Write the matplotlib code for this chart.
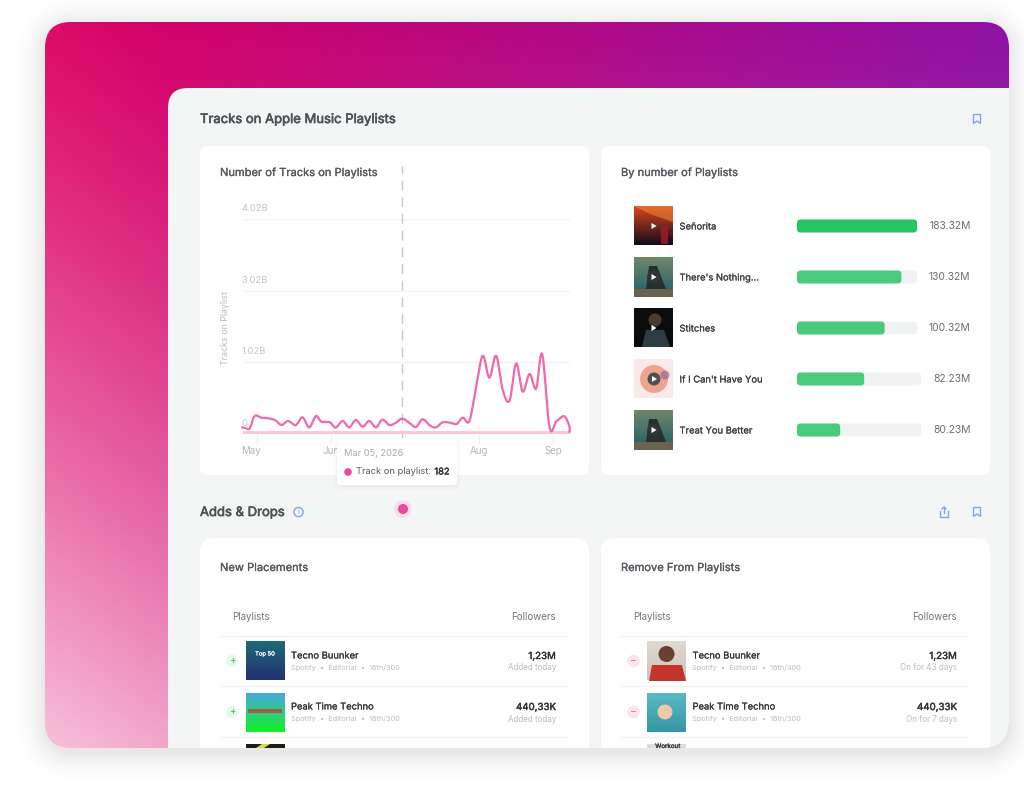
#!/usr/bin/python3

# Dashboard card: playlist tracks line chart, top tracks bars and two placement tables.
# The main axes is in screen pixels, the line and bars get their own axes on top.

import numpy as np
import matplotlib
matplotlib.use('Agg')
import matplotlib.pyplot as plt
import matplotlib.patheffects as pe
from matplotlib.patches import FancyBboxPatch, Circle, Polygon, Rectangle
from matplotlib.lines import Line2D

W, H = 1024, 786

# line chart, y is in grid steps because the axis labels are not evenly valued
track_days = [-6, -4.4, -3, -1, 1.8, 4.5, 7.3, 10, 12.7, 15.9, 18.6, 21.4, 24.1, 26.4, 29.9, 32.2,
              35.1, 37.8, 40.5, 43.3, 46, 48.8, 51.4, 54.2, 56.6, 59.6, 62.7, 65.2, 67.9, 71, 73.4,
              76.2, 79.2, 81.9, 84.4, 87.1, 89.9, 92.6, 95.3, 98.1, 100.8, 103.6, 106.3, 109,
              111.8, 114.5, 117, 120, 122.7, 125.5, 126.8, 128.2, 128.2]
track_vals = [.093, .079, .079, .251, .228, .219, .195, .126, .181, .126, .233, .093, .251, .172,
              .163, .088, .181, .093, .195, .102, .181, .093, .2, .126, .149, .214, .149, .098,
              .205, .116, .093, .163, .158, .14, .228, .181, .66, 1.093, .786, 1.093, .614, .465,
              .986, .591, .837, .633, 1.116, .093, .172, .247, .219, .102, .033]
y_ticks = [0, 1, 2, 3]
y_labels = ['0', '1.02B', '3.02B', '4.02B']
month_days = [0, 30.3, 60.8, 91.2, 121.6]
month_names = ['May', 'Jun', '', 'Aug', 'Sep']  # July sits behind the tooltip
hover_day = 59.6

# bars, lengths as a share of the 120px track
song_names = ['Señorita', "There's Nothing...", 'Stitches', "If I Can't Have You", 'Treat You Better']
song_lengths = [100, 87, 73, 56, 36]
song_tracks = [100, 100, 100, 103.3, 103.3]
song_labels = ['183.32M', '130.32M', '100.32M', '82.23M', '80.23M']

# tables
table_names = ['Tecno Buunker', 'Peak Time Techno']
table_subs = ['Spotify  •  Editorial  •  16th/300', 'Spotify  •  Editorial  •  16th/300']
table_followers = ['1,23M', '440,33K']
added_notes = ['Added today', 'Added today']
removed_notes = ['On for 43 days', 'On for 7 days']

FONT = 'Inter'
DARK = '#4d5258'
GREY = '#b9bcc0'
PINK = '#ec4899'
plt.rcParams['font.family'] = [FONT, 'DejaVu Sans']

fig = plt.figure(figsize=(W / 100, H / 100), dpi=100)
ax = fig.add_axes([0, 0, 1, 1])
ax.set_xlim(0, W)
ax.set_ylim(H, 0)
ax.axis('off')


def px_axes(x0, y0, x1, y1, z=1):
    a = fig.add_axes([x0 / W, 1 - y1 / H, (x1 - x0) / W, (y1 - y0) / H], zorder=z)
    a.patch.set_alpha(0)
    return a


def rounded(target, x0, y0, x1, y1, r, **kw):
    p = FancyBboxPatch((x0, y0), x1 - x0, y1 - y0, boxstyle=f'round,pad=0,rounding_size={r}',
                       linewidth=kw.pop('lw', 0), **kw)
    target.add_patch(p)
    return p


def label(x, y, s, size=8, color=DARK, ha='left', heavy=0, target=None, **kw):
    # Inter only comes in one usable weight here, so a thin stroke stands in for medium
    t = (target or ax).text(x, y + 2, s, fontsize=size, color=color, ha=ha, va='center', **kw)
    if heavy:
        t.set_path_effects([pe.withStroke(linewidth=heavy, foreground=color)])
    return t


# soft shadow around the card, then the gradient clipped to its rounded shape
CX0, CY0, CX1, CY1, CR = 45, 22, 1009, 748, 26
xx, yy = np.meshgrid(np.arange(W) + .5, np.arange(H) + .5)
qx = np.abs(xx - (CX0 + CX1) / 2) - ((CX1 - CX0) / 2 - CR)
qy = np.abs(yy - 4 - (CY0 + CY1) / 2) - ((CY1 - CY0) / 2 - CR)
dist = np.hypot(np.maximum(qx, 0), np.maximum(qy, 0)) + np.minimum(np.maximum(qx, qy), 0) - CR
shade = np.clip(1 - np.clip(dist, 0, None) / 36, 0, 1) ** 2 * 0.09
ax.imshow(1 - shade, cmap='gray', vmin=0, vmax=1, extent=(0, W, H, 0), aspect='auto', zorder=0)

u = ((xx - CX0) / (CX1 - CX0))[..., None]
v = ((yy - CY0) / (CY1 - CY0))[..., None]
tl, tr = np.array([220, 0, 98]) / 255, np.array([142, 18, 165]) / 255
bl = np.array([246, 188, 216]) / 255
top = tl[None, None] * (1 - u) + tr[None, None] * u
edge = np.clip(1 - (xx[..., None] - CX0) / 123, 0, 1)
t = ((v + .12 * edge) / 1.1).clip(0, 1) ** 1.3
grad = top * (1 - t) + bl[None, None] * t
img = ax.imshow(grad.clip(0, 1), extent=(0, W, H, 0), aspect='auto', zorder=1)
card = FancyBboxPatch((CX0, CY0), CX1 - CX0, CY1 - CY0, boxstyle=f'round,pad=0,rounding_size={CR}',
                      transform=ax.transData, facecolor='none', linewidth=0)
ax.add_patch(card)
img.set_clip_path(card)

panel = rounded(ax, 168, 88, 1100, 900, 20, facecolor='#f4f6f6', zorder=2)
panel.set_clip_path(card)

for box in [(200, 146, 589, 475, 8), (601, 146, 990, 475, 8), (200, 538, 589, 800, 14), (601, 538, 990, 800, 14)]:
    c = rounded(ax, *box[:4], box[4], facecolor='white', zorder=3)
    c.set_clip_path(card)

label(200, 118, 'Tracks on Apple Music Playlists', 9.4, DARK, heavy=.45, zorder=4)
label(200, 511, 'Adds & Drops', 9.4, DARK, heavy=.45, zorder=4)
label(220, 171, 'Number of Tracks on Playlists', 8, '#565a60', heavy=.2, zorder=4)
label(621, 171, 'By number of Playlists', 8, '#565a60', heavy=.2, zorder=4)
label(220, 566, 'New Placements', 8, '#565a60', heavy=.2, zorder=4)
label(621, 566, 'Remove From Playlists', 8, '#565a60', heavy=.2, zorder=4)
label(225, 326, 'Tracks on Playlist', 6.4, GREY, ha='center', rotation=90, zorder=4)

BLUE = '#7ea6e8'


def bookmark(x, y):
    ax.add_patch(Polygon([(x - 3.5, y - 4.5), (x + 3.5, y - 4.5), (x + 3.5, y + 4.5), (x, y + 2), (x - 3.5, y + 4.5)],
                         closed=True, facecolor='none', edgecolor=BLUE, linewidth=1, zorder=4))


bookmark(977, 119)
bookmark(977, 512)
ax.add_line(Line2D([940, 940, 948, 948], [511, 516.5, 516.5, 511], color=BLUE, linewidth=1, zorder=4))
ax.add_line(Line2D([944, 944], [513, 507], color=BLUE, linewidth=1, zorder=4))
ax.add_line(Line2D([942, 944, 946], [509, 507, 509], color=BLUE, linewidth=1, zorder=4))
ax.add_patch(Circle((298.5, 512), 4.6, facecolor='none', edgecolor=BLUE, linewidth=1, zorder=4))
label(298.5, 510, 'i', 5.5, BLUE, ha='center', zorder=4)


# line chart
def smooth(xs, ys, n=10):
    pts = np.column_stack([xs, ys])
    pts = np.vstack([pts[0], pts, pts[-1]])
    out = []
    s = np.linspace(0, 1, n, endpoint=False)[:, None]
    for i in range(1, len(pts) - 2):
        p0, p1, p2, p3 = pts[i - 1], pts[i], pts[i + 1], pts[i + 2]
        out.append(.5 * (2 * p1 + (p2 - p0) * s + (2 * p0 - 5 * p1 + 4 * p2 - p3) * s ** 2
                         + (3 * p1 - p0 - 3 * p2 + p3) * s ** 3))
    out.append(pts[-1:])
    return np.vstack(out)


lax = px_axes(242.5, 219, 569.5, 434)
lax.set_xlim(track_days[0], track_days[-1])
lax.set_ylim(0, 3)
for s in lax.spines.values():
    s.set_visible(False)
lax.set_yticks(y_ticks)
lax.set_yticklabels([])
lax.tick_params(axis='y', length=0)
lax.grid(axis='y', color='#f4f4f5', linewidth=1)
lax.set_xticks(month_days)
lax.set_xticklabels([])
lax.tick_params(axis='x', length=7, color='#f0f0f1', width=1)
lax.set_axisbelow(True)
for yt, name in zip(y_ticks, y_labels):
    lax.annotate(name, (0, yt), xycoords=('axes fraction', 'data'), xytext=(-.5, 4.3), textcoords='offset points',
                 fontsize=6.8, color='#c4c6c9', va='bottom', ha='left')
for day, name in zip(month_days, month_names):
    dx = -4.5 if name == 'May' else 0
    lax.annotate(name, (day, 0), xycoords=('data', 'axes fraction'), xytext=(dx, -12), textcoords='offset points',
                 fontsize=7, color='#b5b8bb', va='center', ha='center', annotation_clip=False)
lax.plot([hover_day, hover_day], [-.08, 3.74], color='#c6c8ca', linewidth=1, dashes=(7, 5), clip_on=False)
lax.axhline(track_vals[-1], color='#f9c4db', linewidth=2)
curve = smooth(track_days, track_vals)
lax.plot(curve[:, 0], curve[:, 1], color=PINK, linewidth=1.6, alpha=.82, solid_joinstyle='round', clip_on=False)

# tooltip and the hover dot go over the chart
top_ax = px_axes(0, 0, W, H, z=3)
top_ax.set_xlim(0, W)
top_ax.set_ylim(H, 0)
top_ax.axis('off')
for grow, alpha in [(4, .008), (2.5, .012), (1, .02)]:
    rounded(top_ax, 337 - grow, 440 - grow + 2, 457 + grow, 485 + grow + 1, 3 + grow, facecolor='black', alpha=alpha)
rounded(top_ax, 337, 438, 457, 485, 3, facecolor='white')
label(344, 451, 'Mar 05, 2026', 6.7, '#a9acb0', target=top_ax)
top_ax.add_patch(Circle((348, 472), 3.8, facecolor=PINK, linewidth=0))
label(356.5, 470, 'Track on playlist:', 6.7, '#55595f', target=top_ax)
label(449.5, 470, '182', 6.7, '#33373c', ha='right', heavy=.3, target=top_ax)
top_ax.add_patch(Circle((403, 509), 9, facecolor='#fbd9e8', linewidth=0, alpha=.7))
top_ax.add_patch(Circle((403, 509), 5, facecolor=PINK, linewidth=0))

# bars on the right
row_centers = [226, 277, 328, 379, 430]
bax = px_axes(797, 200, 921, 455)
bax.set_xlim(0, 103.33)
bax.set_ylim(455, 200)
bax.axis('off')
asp = 1.2  # data units per px differ between x and y
for i, (yc, length, track, name, val) in enumerate(zip(row_centers, song_lengths, song_tracks, song_names, song_labels)):
    rounded(bax, 0, yc - 6.5, track, yc + 6.5, 3, facecolor='#f1f2f2', mutation_aspect=asp)
    rounded(bax, 0, yc - 6.5, length, yc + 6.5, 3, facecolor='#22c55e' if i == 0 else '#4acb7c', mutation_aspect=asp)
    label(679.5, yc - 1, name, 6.75, '#3a3e44', heavy=.12, zorder=4)
    label(970.5, yc - 2, val, 7.4, '#6a6e73', ha='right', zorder=4)


def thumb(x0, y0, size, c_top, c_bot, clip_h=None):
    # plain vertical fade standing in for the cover art
    h = clip_h or size
    f = np.linspace(0, h / size, 24)[:, None, None]
    arr = np.array(c_top)[None, None] * (1 - f) + np.array(c_bot)[None, None] * f
    ax.imshow(arr / 255, extent=(x0, x0 + size, y0 + h, y0), aspect='auto', zorder=4)


def play(x, y, dark=True):
    if dark:
        ax.add_patch(Circle((x, y), 6.5, facecolor='#33363a', alpha=.85, linewidth=0, zorder=5.5))
    ax.add_patch(Polygon([(x - 2, y - 3), (x + 3, y), (x - 2, y + 3)], facecolor='white', linewidth=0, zorder=6))


# Senorita
thumb(634, 206, 39, (215, 70, 30), (18, 12, 28))
ax.add_patch(Polygon([(634, 206), (673, 206), (673, 222), (650, 214)], facecolor='#ee8a3c', alpha=.55, linewidth=0, zorder=5))
ax.add_patch(Rectangle((661, 226), 7, 18, facecolor='#a81d28', alpha=.75, linewidth=0, zorder=5))
play(653.5, 226, dark=False)
# There's Nothing and Treat You Better share a cover
for yc in (277, 430):
    thumb(634, yc - 19.5, 39, (110, 135, 105), (35, 95, 105))
    ax.add_patch(Rectangle((634, yc + 12), 39, 7.5, facecolor='#6b6350', linewidth=0, zorder=5))
    ax.add_patch(Polygon([(649, yc - 11), (657, yc - 11), (666, yc + 12), (646, yc + 12)], facecolor='#26302f', linewidth=0, zorder=5))
    play(653.5, yc)
# Stitches
thumb(634, 308.5, 39, (14, 14, 14), (8, 10, 12))
ax.add_patch(Circle((655, 320), 6.5, facecolor='#4a3a30', linewidth=0, zorder=5))
ax.add_patch(Polygon([(642, 347), (646, 330), (664, 330), (670, 347)], facecolor='#2e3d44', linewidth=0, zorder=5))
play(653.5, 328, dark=False)
# If I Can't Have You
thumb(634, 359.5, 39, (250, 234, 234), (249, 234, 234))
ax.add_patch(Circle((654, 379), 14, facecolor='#eea58f', linewidth=0, zorder=5))
ax.add_patch(Circle((665, 375), 4.5, facecolor='#8a5a9a', alpha=.6, linewidth=0, zorder=5))
ax.add_patch(Circle((654, 379), 6.5, facecolor='#50504f', linewidth=0, zorder=6))
ax.add_patch(Polygon([(652, 376), (657, 379), (652, 382)], facecolor='white', linewidth=0, zorder=7))


def table(x0, x_end, head_x, right_x, thumb_x, mark_x, notes, mark_bg, mark_fg, mark):
    label(head_x, 615, 'Playlists', 7, '#70747a', zorder=4)
    label(right_x, 615, 'Followers', 7, '#70747a', ha='right', zorder=4)
    for yl in (635.5, 686, 737):
        ax.add_line(Line2D([x0, x_end], [yl, yl], color='#f3f4f4', linewidth=1, zorder=4))
    for yc, name, sub, val, note in zip((661, 712), table_names, table_subs, table_followers, notes):
        ax.add_patch(Circle((mark_x, yc), 6.2, facecolor=mark_bg, linewidth=0, zorder=4))
        label(mark_x, yc - 2.3, mark, 7, mark_fg, ha='center', zorder=5)
        label(thumb_x + 46, yc - 7, name, 6.75, '#2f3338', heavy=.12, zorder=4)
        label(thumb_x + 46, yc + 5, sub, 5.3, GREY, zorder=4)
        label(right_x, yc - 7, val, 7, '#2f3338', ha='right', heavy=.3, zorder=4)
        label(right_x, yc + 5, note, 5.8, GREY, ha='right', zorder=4)


table(220, 568, 232, 556, 245, 232, added_notes, '#e7f9ec', '#3ebc62', '+')
table(620, 968, 633.5, 957, 646.5, 633.5, removed_notes, '#fde4ec', '#ee6d8f', '–')

# left covers
thumb(245.5, 641.5, 39, (30, 105, 120), (35, 50, 115))
label(265, 652, 'Top 50', 4.2, 'white', ha='center', heavy=.15, zorder=5)
thumb(245.5, 693, 39, (70, 170, 220), (20, 240, 40))
ax.add_patch(Rectangle((248, 709), 34, 4, facecolor='#c8402a', alpha=.8, linewidth=0, zorder=5))
thumb(245.5, 744, 39, (30, 30, 20), (30, 30, 20), clip_h=4)
ax.add_patch(Polygon([(256, 748), (262, 744), (270, 744), (264, 748)], facecolor='#d6dc3c', linewidth=0, zorder=5))
# right covers
thumb(647, 641.5, 39, (225, 218, 210), (205, 195, 185))
ax.add_patch(Circle((666.5, 654), 8, facecolor='#6a4030', linewidth=0, zorder=5))
ax.add_patch(Polygon([(649, 681), (652, 665), (682, 665), (686, 681)], facecolor='#c3352a', linewidth=0, zorder=5))
thumb(647, 693, 39, (90, 185, 195), (55, 150, 165))
ax.add_patch(Circle((665, 712), 7.5, facecolor='#eec9a8', linewidth=0, zorder=5))
thumb(647, 744, 39, (222, 222, 222), (222, 222, 222), clip_h=4)
label(668, 744, 'Workout', 4.5, '#333333', ha='center', heavy=.15, zorder=5)

ax.set_xlim(0, W)
ax.set_ylim(H, 0)
fig.savefig('out.png', dpi=100)
